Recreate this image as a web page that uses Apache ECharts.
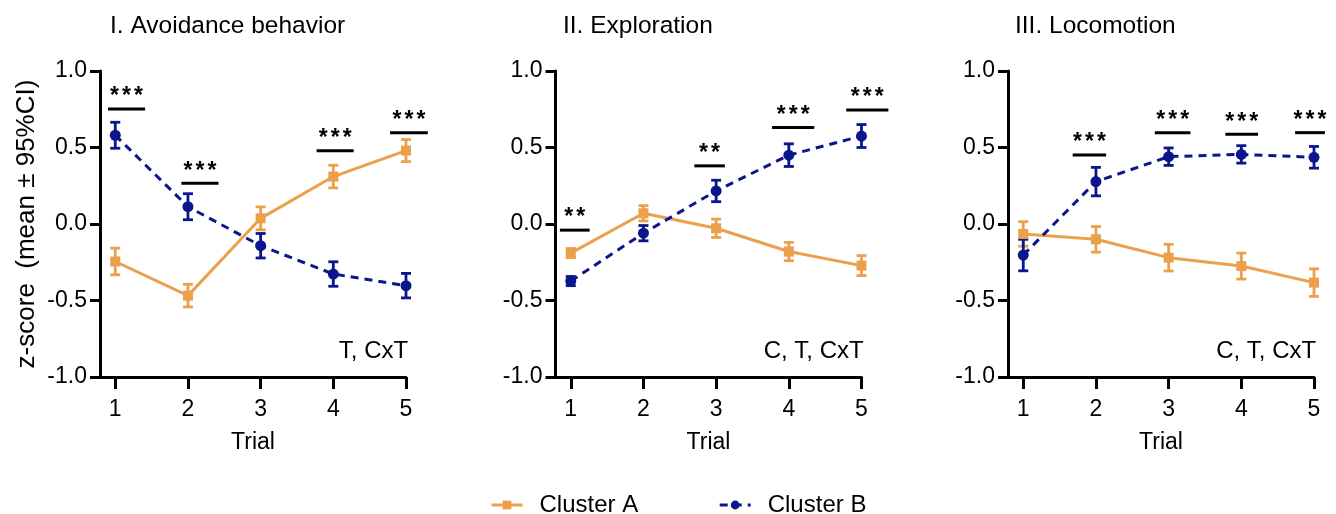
<!DOCTYPE html>
<html>
<head>
<meta charset="utf-8">
<script src="https://cdn.jsdelivr.net/npm/echarts@6/dist/echarts.min.js"></script>
<style>html,body{margin:0;padding:0;background:#fff;}#c{width:1336px;height:514px;}</style>
</head>
<body>
<div id="c"></div>
<script>
// ---------- DATA ----------
const trials = [1, 2, 3, 4, 5];
const panelTitles = ['I. Avoidance behavior', 'II. Exploration', 'III. Locomotion'];
const panelNotes = ['T, CxT', 'C, T, CxT', 'C, T, CxT'];
const seriesNames = ['Cluster A', 'Cluster B'];

const avoidA   = [-0.245, -0.468, 0.037, 0.310, 0.480];
const avoidAci = [0.087, 0.074, 0.075, 0.074, 0.072];
const avoidB   = [0.580, 0.113, -0.142, -0.327, -0.403];
const avoidBci = [0.085, 0.085, 0.080, 0.080, 0.080];

const explA   = [-0.190, 0.070, -0.028, -0.180, -0.272];
const explAci = [0.030, 0.050, 0.060, 0.060, 0.065];
const explB   = [-0.373, -0.060, 0.216, 0.450, 0.575];
const explBci = [0.030, 0.050, 0.070, 0.074, 0.075];

const locoA   = [-0.065, -0.100, -0.220, -0.275, -0.383];
const locoAci = [0.080, 0.084, 0.087, 0.085, 0.090];
const locoB   = [-0.203, 0.277, 0.440, 0.455, 0.436];
const locoBci = [0.103, 0.093, 0.057, 0.057, 0.071];

// significance bars: start trial, end trial, height, label
const avoidSigX1 = [0.90, 1.91, 3.77, 4.78];
const avoidSigX2 = [1.41, 2.42, 4.28, 5.30];
const avoidSigY  = [0.752, 0.266, 0.479, 0.597];
const avoidSigL  = ['***', '***', '***', '***'];

const explSigX1 = [0.85, 2.70, 3.77, 4.79];
const explSigX2 = [1.26, 3.12, 4.35, 5.37];
const explSigY  = [-0.040, 0.380, 0.630, 0.745];
const explSigL  = ['**', '**', '***', '***'];

const locoSigX1 = [1.68, 2.81, 3.78, 4.74];
const locoSigX2 = [2.14, 3.30, 4.23, 5.15];
const locoSigY  = [0.451, 0.597, 0.586, 0.597];
const locoSigL  = ['***', '***', '***', '***'];

// ---------- STYLE ----------
const ORANGE = '#EBA04C';
const NAVY = '#0B168C';
const FONT = 'Liberation Sans, Arial, Helvetica, sans-serif';

const panels = [
  {A: avoidA, Aci: avoidAci, B: avoidB, Bci: avoidBci, sx1: avoidSigX1, sx2: avoidSigX2, sy: avoidSigY, sl: avoidSigL},
  {A: explA, Aci: explAci, B: explB, Bci: explBci, sx1: explSigX1, sx2: explSigX2, sy: explSigY, sl: explSigL},
  {A: locoA, Aci: locoAci, B: locoB, Bci: locoBci, sx1: locoSigX1, sx2: locoSigX2, sy: locoSigY, sl: locoSigL}
];
const gridLefts = [100, 555.5, 1008];
const titleLefts = [110, 563, 1015];
const XMIN = 0.79;

const grids = [], xAxes = [], yAxes = [], series = [], titles = [];

function errRender(color) {
  return function (params, api) {
    const x = api.value(0);
    const lo = api.coord([x, api.value(1)]);
    const hi = api.coord([x, api.value(2)]);
    const w = 5;
    const st = {stroke: color, lineWidth: 2.8};
    return {type: 'group', children: [
      {type: 'line', shape: {x1: lo[0], y1: lo[1], x2: hi[0], y2: hi[1]}, style: st},
      {type: 'line', shape: {x1: lo[0] - w, y1: lo[1], x2: lo[0] + w, y2: lo[1]}, style: st},
      {type: 'line', shape: {x1: hi[0] - w, y1: hi[1], x2: hi[0] + w, y2: hi[1]}, style: st}
    ]};
  };
}

function sigRender(labels) {
  return function (params, api) {
    const p1 = api.coord([api.value(0), api.value(2)]);
    const p2 = api.coord([api.value(1), api.value(2)]);
    const label = labels[params.dataIndex];
    const n = label.length;
    const gap = 12;
    const cx = (p1[0] + p2[0]) / 2;
    const children = [
      {type: 'line', shape: {x1: p1[0], y1: p1[1], x2: p2[0], y2: p2[1]}, style: {stroke: '#000', lineWidth: 3}}
    ];
    for (let k = 0; k < n; k++) {
      children.push({type: 'text', x: cx + (k - (n - 1) / 2) * gap, y: p1[1] - 12,
        style: {text: label[k], fill: '#000', font: 'bold 23px ' + FONT, align: 'center', verticalAlign: 'middle'}});
    }
    return {type: 'group', children: children};
  };
}

function noteRender(text) {
  return function (params, api) {
    const p = api.coord([api.value(0), api.value(1)]);
    return {type: 'text', x: p[0], y: p[1],
      style: {text: text, fill: '#000', font: '24px ' + FONT, align: 'right', verticalAlign: 'middle'}};
  };
}

panels.forEach((pd, i) => {
  grids.push({left: gridLefts[i], top: 71, width: 306, height: 306});
  titles.push({text: panelTitles[i], left: titleLefts[i], top: 14, padding: 0,
    textStyle: {fontFamily: FONT, fontSize: 24.5, fontWeight: 'normal', color: '#000'}});
  xAxes.push({
    gridIndex: i, type: 'value', min: XMIN, max: 5,
    name: 'Trial', nameLocation: 'middle', nameGap: 54,
    nameTextStyle: {fontFamily: FONT, fontSize: 23, color: '#000'},
    axisLine: {show: true, onZero: false, lineStyle: {color: '#000', width: 3}},
    axisTick: {show: true, customValues: trials, length: 12, lineStyle: {color: '#000', width: 3}},
    axisLabel: {customValues: trials, fontFamily: FONT, fontSize: 23, color: '#000', margin: 21},
    splitLine: {show: false}
  });
  yAxes.push({
    gridIndex: i, type: 'value', min: -1, max: 1, interval: 0.5,
    name: i === 0 ? 'z-score  (mean ± 95%CI)' : '', nameLocation: 'middle', nameGap: 60,
    nameTextStyle: {fontFamily: FONT, fontSize: 26, color: '#000'},
    axisLine: {show: true, onZero: false, lineStyle: {color: '#000', width: 3}},
    axisTick: {show: true, length: 10, lineStyle: {color: '#000', width: 3}},
    axisLabel: {fontFamily: FONT, fontSize: 23, color: '#000', margin: 13,
      formatter: v => v.toFixed(1)},
    splitLine: {show: false}
  });
  series.push({
    type: 'custom', xAxisIndex: i, yAxisIndex: i, renderItem: errRender(ORANGE), z: 3,
    data: trials.map((t, k) => [t, pd.A[k] - pd.Aci[k], pd.A[k] + pd.Aci[k]]), silent: true
  });
  series.push({
    type: 'custom', xAxisIndex: i, yAxisIndex: i, renderItem: errRender(NAVY), z: 3,
    data: trials.map((t, k) => [t, pd.B[k] - pd.Bci[k], pd.B[k] + pd.Bci[k]]), silent: true
  });
  series.push({
    name: seriesNames[0], type: 'line', xAxisIndex: i, yAxisIndex: i, z: 4,
    data: trials.map((t, k) => [t, pd.A[k]]),
    symbol: 'rect', symbolSize: 10, showSymbol: true,
    itemStyle: {color: ORANGE}, lineStyle: {color: ORANGE, width: 3}
  });
  series.push({
    name: seriesNames[1], type: 'line', xAxisIndex: i, yAxisIndex: i, z: 5,
    data: trials.map((t, k) => [t, pd.B[k]]),
    symbol: 'circle', symbolSize: 11, showSymbol: true,
    itemStyle: {color: NAVY}, lineStyle: {color: NAVY, width: 3, type: [8, 6]}
  });
  series.push({
    type: 'custom', xAxisIndex: i, yAxisIndex: i, renderItem: sigRender(pd.sl), z: 6, silent: true,
    data: pd.sx1.map((x, k) => [x, pd.sx2[k], pd.sy[k]])
  });
  series.push({
    type: 'custom', xAxisIndex: i, yAxisIndex: i, renderItem: noteRender(panelNotes[i]), z: 6, silent: true,
    data: [[5.03, -0.835]]
  });
});

const chart = echarts.init(document.getElementById('c'), null, {renderer: 'canvas'});
chart.setOption({
  animation: false,
  backgroundColor: '#fff',
  title: titles,
  grid: grids,
  xAxis: xAxes,
  yAxis: yAxes,
  legend: {
    data: seriesNames, left: 485, top: 488, itemWidth: 31, itemHeight: 11, itemGap: 80,
    lineStyle: {width: 3},
    textStyle: {fontFamily: FONT, fontSize: 24, color: '#000', padding: [0, 0, 0, 12]}
  },
  series: series
});
</script>
</body>
</html>
